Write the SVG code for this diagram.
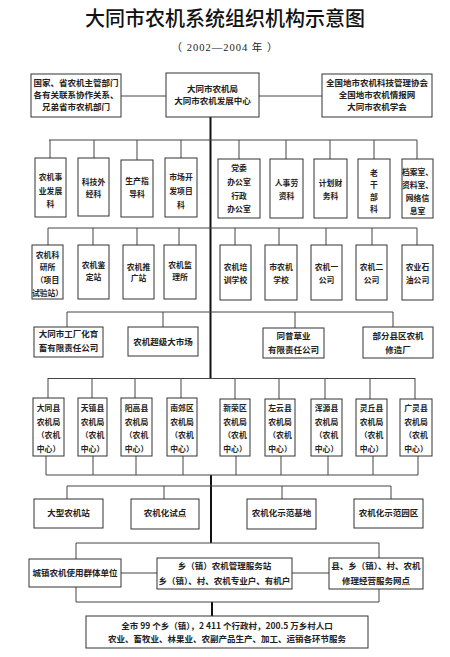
<svg xmlns="http://www.w3.org/2000/svg" width="450" height="657" viewBox="0 0 450 657">
<style>
.b{fill:#fff;stroke:#333;stroke-width:1}
.t{font-family:"Noto Sans CJK SC","Noto Sans",sans-serif;font-size:8.5px;font-weight:bold;fill:#222;text-anchor:middle}
.n .t{font-size:7.8px}
.c line{stroke:#444;stroke-width:1}
.c .tr{stroke:#111;stroke-width:2}
</style>
<rect width="450" height="657" fill="#fff"/>
<text x="225" y="25.5" style="font-family:'Noto Sans CJK SC',sans-serif;font-size:20px;font-weight:500;fill:#111;text-anchor:middle">大同市农机系统组织机构示意图</text>
<text x="225" y="51" style="font-family:'Liberation Serif','Noto Sans CJK SC',serif;font-size:10.5px;fill:#222;text-anchor:middle;letter-spacing:1px">（ 2002—2004 年 ）</text>

<g class="c">
<line x1="121" y1="96" x2="166" y2="96"/>
<line x1="259" y1="96" x2="322" y2="96"/>
<line class="tr" x1="210.5" y1="117" x2="210.5" y2="379"/>
<line class="tr" x1="211" y1="475" x2="211" y2="543"/>
<line class="tr" x1="212" y1="602" x2="212" y2="616"/>
<line x1="49" y1="140" x2="417" y2="140"/>
<line x1="50" y1="140" x2="50" y2="158"/>
<line x1="94" y1="140" x2="94" y2="158"/>
<line x1="137" y1="140" x2="137" y2="160"/>
<line x1="181" y1="140" x2="181" y2="158"/>
<line x1="239" y1="140" x2="239" y2="159"/>
<line x1="286" y1="140" x2="286" y2="159"/>
<line x1="330" y1="140" x2="330" y2="159"/>
<line x1="374" y1="140" x2="374" y2="159"/>
<line x1="417" y1="140" x2="417" y2="159"/>
<line x1="48" y1="228" x2="417" y2="228"/>
<line x1="48" y1="228" x2="48" y2="245"/>
<line x1="93" y1="228" x2="93" y2="245"/>
<line x1="137" y1="228" x2="137" y2="245"/>
<line x1="179" y1="228" x2="179" y2="245"/>
<line x1="235" y1="228" x2="235" y2="245"/>
<line x1="279" y1="228" x2="279" y2="245"/>
<line x1="326" y1="228" x2="326" y2="245"/>
<line x1="372" y1="228" x2="372" y2="245"/>
<line x1="417" y1="228" x2="417" y2="245"/>
<line x1="67" y1="312" x2="393" y2="312"/>
<line x1="67" y1="312" x2="67" y2="327"/>
<line x1="163" y1="312" x2="163" y2="327"/>
<line x1="295" y1="312" x2="295" y2="328"/>
<line x1="393" y1="312" x2="393" y2="327"/>
<line x1="48" y1="378.5" x2="415" y2="378.5"/>
<line x1="48" y1="378" x2="48" y2="398"/>
<line x1="92" y1="378" x2="92" y2="398"/>
<line x1="135" y1="378" x2="135" y2="398"/>
<line x1="181" y1="378" x2="181" y2="398"/>
<line x1="235" y1="378" x2="235" y2="399"/>
<line x1="279" y1="378" x2="279" y2="399"/>
<line x1="325" y1="378" x2="325" y2="399"/>
<line x1="370" y1="378" x2="370" y2="399"/>
<line x1="415" y1="378" x2="415" y2="399"/>
<line x1="46" y1="456" x2="46" y2="475"/>
<line x1="93" y1="456" x2="93" y2="475"/>
<line x1="136" y1="456" x2="136" y2="475"/>
<line x1="183" y1="456" x2="183" y2="475"/>
<line x1="236" y1="456" x2="236" y2="475"/>
<line x1="281" y1="456" x2="281" y2="475"/>
<line x1="328" y1="456" x2="328" y2="475"/>
<line x1="373" y1="456" x2="373" y2="475"/>
<line x1="418" y1="456" x2="418" y2="475"/>
<line x1="46" y1="475" x2="418" y2="475"/>
<line x1="67" y1="486" x2="391" y2="486"/>
<line x1="67" y1="486" x2="67" y2="499"/>
<line x1="164" y1="486" x2="164" y2="499"/>
<line x1="282" y1="486" x2="282" y2="499"/>
<line x1="391" y1="486" x2="391" y2="499"/>
<line x1="76" y1="543" x2="379" y2="543"/>
<line x1="76" y1="543" x2="76" y2="559"/>
<line x1="379" y1="543" x2="379" y2="558"/>
<line x1="76" y1="587" x2="76" y2="602"/>
<line x1="379" y1="589" x2="379" y2="602"/>
<line x1="76" y1="602" x2="379" y2="602"/>
<line x1="121" y1="573" x2="157" y2="573"/>
<line x1="292" y1="573" x2="329" y2="573"/>
</g>

<g id="top-left"><rect class="b" x="31" y="74" width="90" height="43"/>
<text class="t" x="76" y="86">国家、省农机主管部门</text><text class="t" x="76" y="98">各有关联系协作关系、</text><text class="t" x="76" y="110">兄弟省市农机部门</text></g>
<g id="top-center"><rect class="b" x="166" y="73" width="93" height="44"/>
<text class="t" x="212.5" y="92">大同市农机局</text><text class="t" x="212.5" y="104">大同市农机发展中心</text></g>
<g id="top-right"><rect class="b" x="322" y="74" width="110" height="43"/>
<text class="t" x="377" y="86">全国地市农机科技管理协会</text><text class="t" x="377" y="98">全国地市农机情报网</text><text class="t" x="377" y="110">大同市农机学会</text></g>

<g class="n">
<g id="r2-1"><rect class="b" x="35" y="158" width="31" height="59"/>
<text class="t" x="50.5" y="180">农机事</text><text class="t" x="50.5" y="194">业发展</text><text class="t" x="50.5" y="207">科</text></g>
<g id="r2-2"><rect class="b" x="78" y="158" width="31" height="58"/>
<text class="t" x="93.5" y="185">科技外</text><text class="t" x="93.5" y="197">经科</text></g>
<g id="r2-3"><rect class="b" x="121" y="160" width="32" height="57"/>
<text class="t" x="137" y="184">生产指</text><text class="t" x="137" y="197">导科</text></g>
<g id="r2-4"><rect class="b" x="165" y="158" width="32" height="59"/>
<text class="t" x="181" y="180">市场开</text><text class="t" x="181" y="194">发项目</text><text class="t" x="181" y="208">科</text></g>
<g id="r2-5"><rect class="b" x="218" y="159" width="42" height="59"/>
<text class="t" x="239" y="171">党委</text><text class="t" x="239" y="185">办公室</text><text class="t" x="239" y="199">行政</text><text class="t" x="239" y="212">办公室</text></g>
<g id="r2-6"><rect class="b" x="270" y="159" width="33" height="59"/>
<text class="t" x="286.5" y="186">人事劳</text><text class="t" x="286.5" y="199">资科</text></g>
<g id="r2-7"><rect class="b" x="314" y="159" width="33" height="59"/>
<text class="t" x="330.5" y="186">计划财</text><text class="t" x="330.5" y="199">务科</text></g>
<g id="r2-8"><rect class="b" x="358" y="159" width="32" height="59"/>
<text class="t" x="374" y="176">老</text><text class="t" x="374" y="188">干</text><text class="t" x="374" y="200">部</text><text class="t" x="374" y="212">科</text></g>
<g id="r2-9"><rect class="b" x="402" y="159" width="31" height="59"/>
<text class="t" x="417.5" y="175">档案室、</text><text class="t" x="417.5" y="188">资料室、</text><text class="t" x="417.5" y="201">网络信</text><text class="t" x="417.5" y="214">息室</text></g>

<g id="r3-1"><rect class="b" x="32" y="245" width="31" height="54"/>
<text class="t" x="47.5" y="258">农机科</text><text class="t" x="47.5" y="270">研所</text><text class="t" x="47.5" y="283">（项目</text><text class="t" x="47.5" y="296">试验站）</text></g>
<g id="r3-2"><rect class="b" x="78" y="245" width="31" height="54"/>
<text class="t" x="93.5" y="268">农机鉴</text><text class="t" x="93.5" y="280">定站</text></g>
<g id="r3-3"><rect class="b" x="123" y="245" width="31" height="54"/>
<text class="t" x="138.5" y="270">农机推</text><text class="t" x="138.5" y="281">广站</text></g>
<g id="r3-4"><rect class="b" x="164" y="245" width="32" height="54"/>
<text class="t" x="180" y="268">农机监</text><text class="t" x="180" y="280">理所</text></g>
<g id="r3-5"><rect class="b" x="220" y="245" width="31" height="55"/>
<text class="t" x="235.5" y="270">农机培</text><text class="t" x="235.5" y="283">训学校</text></g>
<g id="r3-6"><rect class="b" x="265" y="245" width="32" height="55"/>
<text class="t" x="281" y="270">市农机</text><text class="t" x="281" y="283">学校</text></g>
<g id="r3-7"><rect class="b" x="311" y="245" width="31" height="55"/>
<text class="t" x="326.5" y="270">农机一</text><text class="t" x="326.5" y="283">公司</text></g>
<g id="r3-8"><rect class="b" x="356" y="245" width="31" height="55"/>
<text class="t" x="371.5" y="270">农机二</text><text class="t" x="371.5" y="283">公司</text></g>
<g id="r3-9"><rect class="b" x="402" y="245" width="31" height="55"/>
<text class="t" x="417.5" y="270">农业石</text><text class="t" x="417.5" y="283">油公司</text></g>

<g id="r5-1"><rect class="b" x="33" y="398" width="31" height="58"/>
<text class="t" x="48.5" y="411">大同县</text><text class="t" x="48.5" y="425">农机局</text><text class="t" x="48.5" y="438">（农机</text><text class="t" x="48.5" y="452">中心）</text></g>
<g id="r5-2"><rect class="b" x="78" y="398" width="29" height="58"/>
<text class="t" x="92.5" y="411">天镇县</text><text class="t" x="92.5" y="425">农机局</text><text class="t" x="92.5" y="438">（农机</text><text class="t" x="92.5" y="452">中心）</text></g>
<g id="r5-3"><rect class="b" x="121" y="398" width="31" height="58"/>
<text class="t" x="136.5" y="411">阳高县</text><text class="t" x="136.5" y="425">农机局</text><text class="t" x="136.5" y="438">（农机</text><text class="t" x="136.5" y="452">中心）</text></g>
<g id="r5-4"><rect class="b" x="167" y="398" width="30" height="58"/>
<text class="t" x="182" y="411">南郊区</text><text class="t" x="182" y="425">农机局</text><text class="t" x="182" y="438">（农机</text><text class="t" x="182" y="452">中心）</text></g>
<g id="r5-5"><rect class="b" x="220" y="399" width="30" height="57"/>
<text class="t" x="235" y="411">新荣区</text><text class="t" x="235" y="425">农机局</text><text class="t" x="235" y="438">（农机</text><text class="t" x="235" y="452">中心）</text></g>
<g id="r5-6"><rect class="b" x="265" y="399" width="30" height="57"/>
<text class="t" x="280" y="411">左云县</text><text class="t" x="280" y="425">农机局</text><text class="t" x="280" y="438">（农机</text><text class="t" x="280" y="452">中心）</text></g>
<g id="r5-7"><rect class="b" x="311" y="399" width="31" height="57"/>
<text class="t" x="326.5" y="411">浑源县</text><text class="t" x="326.5" y="425">农机局</text><text class="t" x="326.5" y="438">（农机</text><text class="t" x="326.5" y="452">中心）</text></g>
<g id="r5-8"><rect class="b" x="356" y="399" width="31" height="57"/>
<text class="t" x="371.5" y="411">灵丘县</text><text class="t" x="371.5" y="425">农机局</text><text class="t" x="371.5" y="438">（农机</text><text class="t" x="371.5" y="452">中心）</text></g>
<g id="r5-9"><rect class="b" x="400" y="399" width="32" height="57"/>
<text class="t" x="416" y="411">广灵县</text><text class="t" x="416" y="425">农机局</text><text class="t" x="416" y="438">（农机</text><text class="t" x="416" y="452">中心）</text></g>
</g>

<g id="r4-1"><rect class="b" x="34" y="327" width="69" height="30"/>
<text class="t" x="68.5" y="337">大同市工厂化育</text><text class="t" x="68.5" y="351">畜有限责任公司</text></g>
<g id="r4-2"><rect class="b" x="128" y="327" width="70" height="29"/>
<text class="t" x="163" y="345">农机超级大市场</text></g>
<g id="r4-3"><rect class="b" x="263" y="328" width="61" height="30"/>
<text class="t" x="293.5" y="339">同昔草业</text><text class="t" x="293.5" y="353">有限责任公司</text></g>
<g id="r4-4"><rect class="b" x="363" y="327" width="70" height="31"/>
<text class="t" x="398" y="339">部分县区农机</text><text class="t" x="398" y="353">修造厂</text></g>

<g id="r6-1"><rect class="b" x="34" y="499" width="69" height="29"/>
<text class="t" x="68.5" y="516">大型农机站</text></g>
<g id="r6-2"><rect class="b" x="131" y="499" width="68" height="30"/>
<text class="t" x="165" y="516">农机化试点</text></g>
<g id="r6-3"><rect class="b" x="247" y="499" width="69" height="30"/>
<text class="t" x="281.5" y="516">农机化示范基地</text></g>
<g id="r6-4"><rect class="b" x="354" y="499" width="69" height="29"/>
<text class="t" x="388.5" y="516">农机化示范园区</text></g>

<g id="r7-left"><rect class="b" x="29" y="559" width="92" height="28"/>
<text class="t" x="75" y="576">城镇农机使用群体单位</text></g>
<g id="r7-center"><rect class="b" x="157" y="558" width="135" height="31"/>
<text class="t" x="224.5" y="569">乡（镇）农机管理服务站</text><text class="t" x="224.5" y="584">乡（镇）、村、农机专业户、有机户</text></g>
<g id="r7-right"><rect class="b" x="329" y="558" width="94" height="31"/>
<text class="t" x="376" y="569">县、乡（镇）、村、农机</text><text class="t" x="376" y="584">修理经营服务网点</text></g>

<g id="bottom"><rect class="b" x="86" y="616" width="282" height="32"/>
<text class="t" x="227" y="629">全市 99 个乡（镇），2 411 个行政村，200.5 万乡村人口</text><text class="t" x="227" y="642">农业、畜牧业、林果业、农副产品生产、加工、运销各环节服务</text></g>
</svg>
